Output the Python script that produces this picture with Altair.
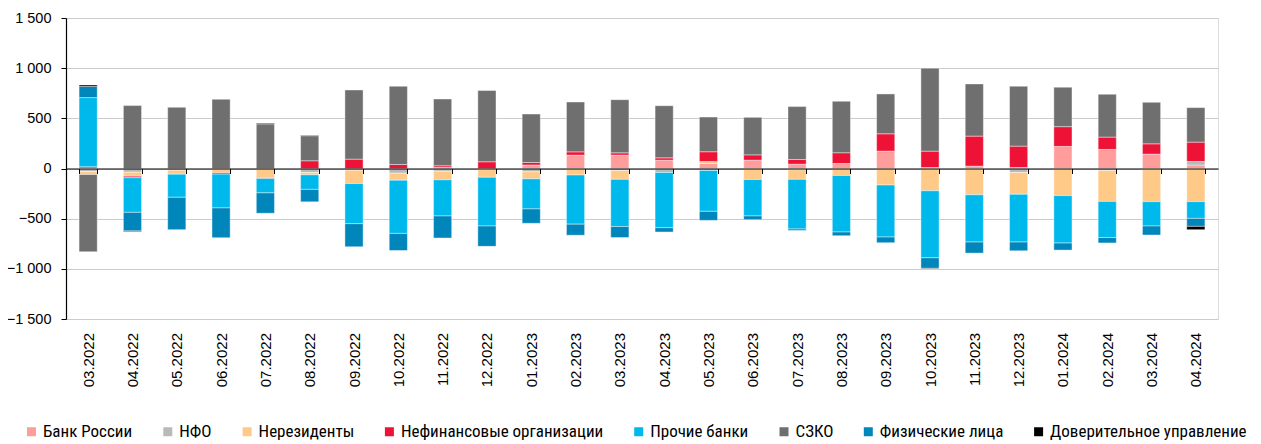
import altair as alt
import pandas as pd

months = ["03.2022", "04.2022", "05.2022", "06.2022", "07.2022", "08.2022", "09.2022",
          "10.2022", "11.2022", "12.2022", "01.2023", "02.2023", "03.2023", "04.2023",
          "05.2023", "06.2023", "07.2023", "08.2023", "09.2023", "10.2023", "11.2023",
          "12.2023", "01.2024", "02.2024", "03.2024", "04.2024"]

series_names = ["Банк России", "НФО", "Нерезиденты", "Нефинансовые организации",
                "Прочие банки", "СЗКО", "Физические лица", "Доверительное управление"]
series_colors = ["#FF9C9C", "#B9B9B9", "#FFCA88", "#EE1336", "#00B9EC", "#6E6F6E",
                 "#0086BB", "#000000"]

bank_russia = [5, 0, 0, 0, 0, 0, 0, 0, 10, 0, 35, 133, 133, 83, 50, 83, 43, 50, 173, 10, 23, 10, 220, 190, 143, 35]
nfo = [-30, -37, -17, -5, 0, -40, -17, -47, -27, -8, -33, 0, -20, -40, -20, 0, -13, 0, 0, 0, 0, -40, 0, -20, 0, 35]
nonresidents = [-30, -40, -40, -38, -93, -23, -133, -70, -86, -80, -70, -65, -88, 0, 20, -110, -95, -70, -165, -222, -262, -217, -270, -308, -330, -330]
nonfinancial = [12, -15, 0, -13, -7, 77, 93, 40, 17, 67, 25, 33, 23, 23, 97, 53, 47, 107, 173, 163, 300, 213, 197, 123, 103, 193]
other_banks = [690, -345, -230, -337, -143, -145, -400, -530, -360, -485, -300, -490, -470, -550, -407, -363, -495, -563, -518, -668, -471, -476, -473, -360, -243, -167]
szko = [-770, 627, 610, 690, 445, 250, 690, 780, 666, 710, 483, 497, 530, 520, 346, 374, 527, 513, 397, 827, 520, 597, 393, 427, 414, 344]
individuals = [110, -185, -323, -297, -203, -124, -230, -170, -220, -203, -143, -110, -110, -43, -90, -37, -14, -37, -57, -105, -110, -87, -70, -54, -90, -80]
trust = [15, -7, 0, 0, 7, 5, 0, 0, 0, 0, 0, 0, 0, 0, 0, 0, 0, 0, 0, -5, 0, 0, 0, 0, 0, -33]

all_series = [bank_russia, nfo, nonresidents, nonfinancial, other_banks, szko, individuals, trust]

rows = []
for si, (name, vals) in enumerate(zip(series_names, all_series)):
    for m, v in zip(months, vals):
        if v != 0:
            rows.append({"month": m, "series": name, "idx": si, "value": v})
df = pd.DataFrame(rows)

bars = alt.Chart(df).mark_bar(stroke="#ffffff", strokeWidth=0.6, strokeOpacity=0.7).encode(
    x=alt.X("month:N", sort=months,
            scale=alt.Scale(paddingInner=0.59, paddingOuter=0.295),
            axis=alt.Axis(title=None, orient="bottom", offset=-150.5,
                          labelAngle=-90, labelAlign="right", labelBaseline="middle",
                          labelPadding=159, labelFont="Liberation Sans", labelFontSize=15,
                          labelColor="#000000", labelOverlap=False,
                          tickBand="extent", tickSize=5, tickColor="#000000",
                          domainColor="#000000", domainWidth=1.2, grid=False, zindex=1)),
    y=alt.Y("value:Q", stack="zero",
            scale=alt.Scale(domain=[-1500, 1500], nice=False),
            axis=alt.Axis(title=None, values=[-1500, -1000, -500, 0, 500, 1000, 1500],
                          labelExpr="replace(format(datum.value, ','), ',', ' ')",
                          labelFont="Liberation Sans", labelFontSize=14.5, labelColor="#000000",
                          labelPadding=10, tickSize=5, tickColor="#000000",
                          domainColor="#000000", domainWidth=1.2,
                          grid=True, gridColor="#cbcbcb", gridWidth=1.2, zindex=0)),
    color=alt.Color("series:N",
                    scale=alt.Scale(domain=series_names, range=series_colors),
                    legend=alt.Legend(title=None, orient="none", legendX=-43, legendY=405,
                                      direction="horizontal", symbolType="square",
                                      symbolSize=81, symbolStrokeWidth=0,
                                      labelFont="Liberation Sans Narrow, Roboto Condensed, Roboto",
                                      labelFontSize=17, labelColor="#000000",
                                      labelOffset=3, columnPadding=26.3, labelLimit=400)),
    order=alt.Order("idx:Q", sort="ascending"),
)

chart = bars.properties(
    width=1152, height=301,
    autosize=alt.AutoSizeParams(type="none"),
    padding={"left": 58, "top": 10, "right": 35, "bottom": 124},
).configure_view(stroke=None).configure(background="#ffffff")

chart.save("out.html", embed_options={"renderer": "svg", "actions": False})
